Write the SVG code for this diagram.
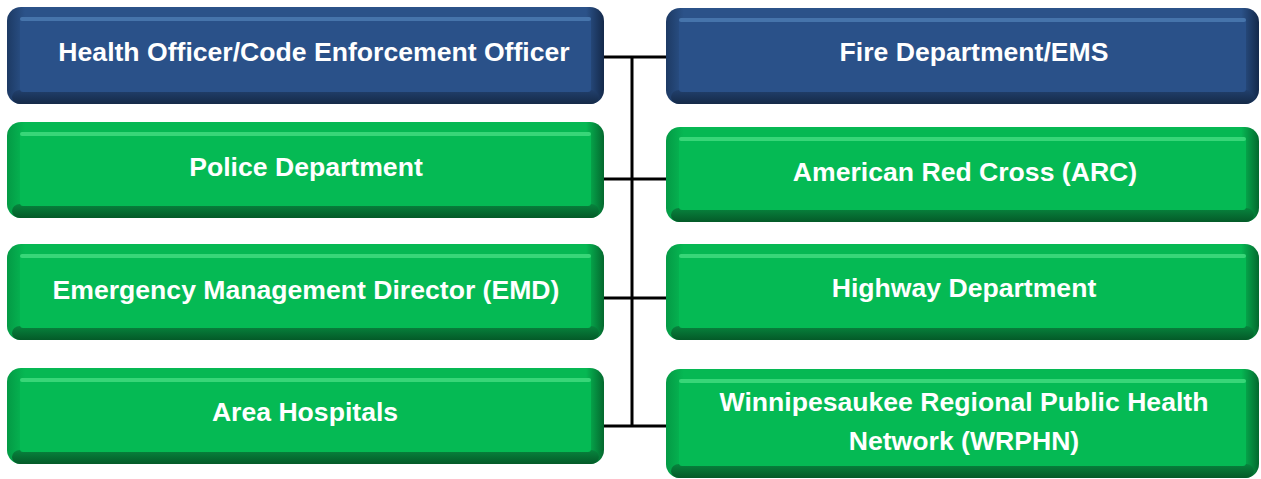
<svg xmlns="http://www.w3.org/2000/svg" width="1261" height="479" viewBox="0 0 1261 479">
<defs>
<linearGradient id="bSide" x1="0" y1="0" x2="1" y2="0">
<stop offset="0" stop-color="#1d3a64"/><stop offset="0.03" stop-color="#2b5289"/><stop offset="0.97" stop-color="#2b5289"/><stop offset="1" stop-color="#14294a"/>
</linearGradient>
<linearGradient id="gSide" x1="0" y1="0" x2="1" y2="0">
<stop offset="0" stop-color="#049a45"/><stop offset="0.03" stop-color="#06b853"/><stop offset="0.97" stop-color="#06b853"/><stop offset="1" stop-color="#04682e"/>
</linearGradient>
<linearGradient id="bBot" x1="0" y1="0" x2="0" y2="1">
<stop offset="0" stop-color="#213f6c"/><stop offset="1" stop-color="#152a48"/>
</linearGradient>
<linearGradient id="gBot" x1="0" y1="0" x2="0" y2="1">
<stop offset="0" stop-color="#07843d"/><stop offset="1" stop-color="#045a28"/>
</linearGradient>
</defs>
<style>
.bo{fill:url(#bSide)}
.go{fill:url(#gSide)}
.bb{fill:url(#bBot)}
.gb{fill:url(#gBot)}
.bi{fill:#2a5189}
.gi{fill:#05ba54}
.bh{fill:#4674ab}
.gh{fill:#38d678}
.t{font-family:"Liberation Sans",Arial,sans-serif;font-weight:bold;font-size:26.6px;fill:#ffffff;text-anchor:middle}
.c{stroke:#000;stroke-width:3;fill:none}
</style>
<g id="connectors">
<line class="c" x1="632" y1="57" x2="632" y2="426"/>
<line class="c" x1="602" y1="57" x2="668" y2="57"/>
<line class="c" x1="602" y1="179" x2="668" y2="179"/>
<line class="c" x1="602" y1="298" x2="668" y2="298"/>
<line class="c" x1="602" y1="426" x2="668" y2="426"/>
</g>
<g id="health-officer">
<rect class="bo" x="7" y="7" width="597" height="97" rx="14"/>
<rect class="bb" x="12" y="90" width="587" height="14" rx="8"/>
<rect class="bi" x="20" y="17" width="571" height="75" rx="3"/>
<rect class="bh" x="20" y="17" width="571" height="4" rx="2"/>
<text class="t" x="314" y="61">Health Officer/Code Enforcement Officer</text>
</g>
<g id="fire-department">
<rect class="bo" x="666" y="8" width="593" height="96" rx="14"/>
<rect class="bb" x="671" y="90" width="583" height="14" rx="8"/>
<rect class="bi" x="679" y="18" width="567" height="74" rx="3"/>
<rect class="bh" x="679" y="18" width="567" height="4" rx="2"/>
<text class="t" x="974" y="61">Fire Department/EMS</text>
</g>
<g id="police">
<rect class="go" x="7" y="122" width="597" height="96" rx="14"/>
<rect class="gb" x="12" y="204" width="587" height="14" rx="8"/>
<rect class="gi" x="20" y="132" width="571" height="74" rx="3"/>
<rect class="gh" x="20" y="132" width="571" height="4" rx="2"/>
<text class="t" x="306" y="176">Police Department</text>
</g>
<g id="arc">
<rect class="go" x="666" y="127" width="593" height="95" rx="14"/>
<rect class="gb" x="671" y="208" width="583" height="14" rx="8"/>
<rect class="gi" x="679" y="137" width="567" height="73" rx="3"/>
<rect class="gh" x="679" y="137" width="567" height="4" rx="2"/>
<text class="t" x="965" y="181">American Red Cross (ARC)</text>
</g>
<g id="emd">
<rect class="go" x="7" y="244" width="597" height="96" rx="14"/>
<rect class="gb" x="12" y="326" width="587" height="14" rx="8"/>
<rect class="gi" x="20" y="254" width="571" height="74" rx="3"/>
<rect class="gh" x="20" y="254" width="571" height="4" rx="2"/>
<text class="t" x="306" y="299">Emergency Management Director (EMD)</text>
</g>
<g id="highway">
<rect class="go" x="666" y="244" width="593" height="96" rx="14"/>
<rect class="gb" x="671" y="326" width="583" height="14" rx="8"/>
<rect class="gi" x="679" y="254" width="567" height="74" rx="3"/>
<rect class="gh" x="679" y="254" width="567" height="4" rx="2"/>
<text class="t" x="964" y="297">Highway Department</text>
</g>
<g id="hospitals">
<rect class="go" x="7" y="368" width="597" height="96" rx="14"/>
<rect class="gb" x="12" y="450" width="587" height="14" rx="8"/>
<rect class="gi" x="20" y="378" width="571" height="74" rx="3"/>
<rect class="gh" x="20" y="378" width="571" height="4" rx="2"/>
<text class="t" x="305" y="421">Area Hospitals</text>
</g>
<g id="wrphn">
<rect class="go" x="666" y="369" width="593" height="109" rx="14"/>
<rect class="gb" x="671" y="464" width="583" height="14" rx="8"/>
<rect class="gi" x="679" y="379" width="567" height="87" rx="3"/>
<rect class="gh" x="679" y="379" width="567" height="4" rx="2"/>
<text class="t" x="964" y="411">Winnipesaukee Regional Public Health</text>
<text class="t" x="964" y="450">Network (WRPHN)</text>
</g>
</svg>
